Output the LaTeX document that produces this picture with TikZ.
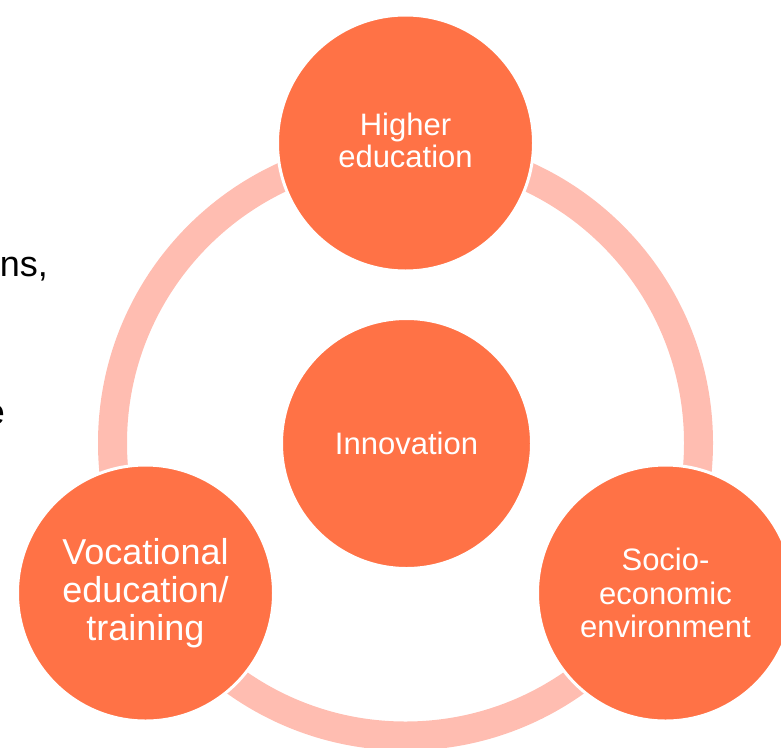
\documentclass[tikz,border=0pt]{standalone}
\usepackage{fontspec}
\setmainfont{Liberation Sans}
\definecolor{bubfill}{RGB}{255,114,70}
\definecolor{ringcol}{RGB}{255,189,177}
\begin{document}
\begin{tikzpicture}[x=1pt,y=-1pt,
  bub/.style={circle, fill=bubfill, draw=white, line width=3pt, minimum size=#1, inner sep=0pt,
    text=white, align=center},
  bub/.default=256pt,
  ringstyle/.style={draw=ringcol, line width=29pt},
  sidetext/.style={text=black, inner sep=0pt, font=\fontsize{36}{38}\selectfont}]
\useasboundingbox (0,0) rectangle (781,747);
\clip (0,0) rectangle (781,747);
\coordinate (ctr) at (405.5,443);
% left partial text
\node[sidetext, anchor=base east] (t1) at (48,276) {ns,};
\node[sidetext, anchor=base east] (t2) at (5,424) {e};
% ring
\draw[ringstyle] (ctr) circle[radius=293];
% circles
\node[bub=250pt, font=\fontsize{31}{32}\selectfont] (inno) at (406.5,443.5) {Innovation};
\node[bub, font=\fontsize{31}{32}\selectfont] (high) at (405.5,143) {};
\node[text=white, align=center, font=\fontsize{31}{32}\selectfont] (hightext) at (405.5,140.5) {Higher\\education};
\node[bub, font=\fontsize{36}{38}\selectfont] (voc) at (145.5,593) {Vocational\\education/\\training};
\node[bub, font=\fontsize{31}{33.5}\selectfont] (socio) at (665.5,593) {Socio-\\economic\\environment};
\end{tikzpicture}
\end{document}
